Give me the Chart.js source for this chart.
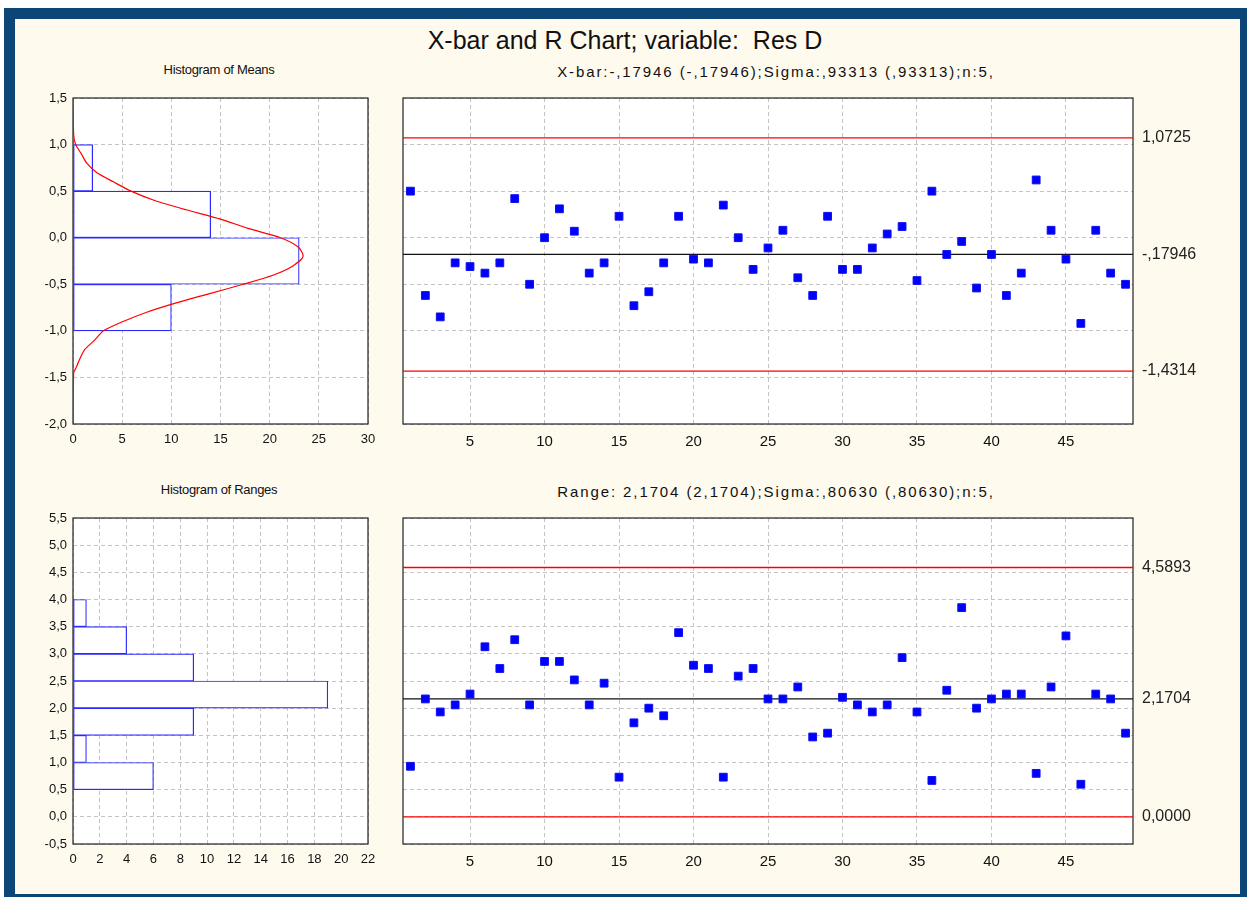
<!DOCTYPE html>
<html>
<head>
<meta charset="utf-8">
<script src="https://cdn.jsdelivr.net/npm/chart.js@4"></script>
<style>
  body { margin: 0; background: #fff; }
  #frame { position: absolute; left: 4px; top: 8px; width: 1243px; height: 889px; background: #0b4676; }
  #inner { position: absolute; left: 15px; top: 19px; width: 1225px; height: 875px; background: #fffaee; }
  canvas { position: absolute; }
  .t { position: absolute; font-family: "Liberation Sans", Arial, sans-serif; color: #111; white-space: nowrap; transform: translate(-50%, -50%); }
</style>
</head>
<body>
<div id="frame"></div>
<div id="inner"></div>

<div class="t" style="left:625px; top:40px; font-size:25px;">X-bar and R Chart; variable:&nbsp; Res D</div>
<div class="t" style="left:776px; top:71px; font-size:15px; letter-spacing:1.9px;">X-bar:-,17946 (-,17946);Sigma:,93313 (,93313);n:5,</div>
<div class="t" style="left:219px; top:69px; font-size:13px; letter-spacing:-0.3px;">Histogram of Means</div>
<div class="t" style="left:219px; top:489px; font-size:13px; letter-spacing:-0.3px;">Histogram of Ranges</div>
<div class="t" style="left:776px; top:491px; font-size:15px; letter-spacing:1.9px;">Range: 2,1704 (2,1704);Sigma:,80630 (,80630);n:5,</div>

<canvas id="histMeans" width="365" height="370" style="left:20px; top:85px;"></canvas>
<canvas id="xbarChart" width="850" height="374" style="left:390px; top:81px;"></canvas>
<canvas id="histRanges" width="365" height="370" style="left:20px; top:505px;"></canvas>
<canvas id="rChart" width="850" height="374" style="left:390px; top:501px;"></canvas>

<script>
// Sample means (X-bar), samples 1..49
const meansValues = [0.50, -0.62, -0.85, -0.27, -0.31, -0.38, -0.27, 0.42, -0.50, 0.00,
    0.31, 0.07, -0.38, -0.27, 0.23, -0.73, -0.58, -0.27, 0.23, -0.23,
    -0.27, 0.35, 0.00, -0.34, -0.11, 0.08, -0.43, -0.62, 0.23, -0.34,
    -0.34, -0.11, 0.04, 0.12, -0.46, 0.50, -0.18, -0.04, -0.54, -0.18,
    -0.62, -0.38, 0.62, 0.08, -0.23, -0.92, 0.08, -0.38, -0.50];

// Sample ranges, samples 1..49
const rangeValues = [0.93, 2.17, 1.93, 2.06, 2.26, 3.13, 2.73, 3.26, 2.06, 2.86,
    2.86, 2.52, 2.06, 2.46, 0.73, 1.73, 2.00, 1.86, 3.39, 2.79,
    2.73, 0.73, 2.59, 2.73, 2.17, 2.17, 2.39, 1.47, 1.54, 2.20,
    2.06, 1.93, 2.06, 2.93, 1.93, 0.67, 2.33, 3.85, 2.00, 2.17,
    2.26, 2.26, 0.80, 2.39, 3.33, 0.60, 2.26, 2.17, 1.54];

// Control limits
const xbarLimits = [1.0725, -0.17946, -1.4314];
const xbarLimitLabels = ['1,0725', '-,17946', '-1,4314'];
const rLimits = [4.5893, 2.1704, 0.0];
const rLimitLabels = ['4,5893', '2,1704', '0,0000'];

// Histograms (bin centre, count)
const meansBins = [0.75, 0.25, -0.25, -0.75];
const meansCounts = [2, 14, 23, 10];
const rangeBins = [0.75, 1.25, 1.75, 2.25, 2.75, 3.25, 3.75];
const rangeCounts = [6, 1, 9, 19, 9, 4, 1];

// Fitted curve on the means histogram
const curveLevels = [1.5, 1.1, 1.0, 0.9, 0.8, 0.7, 0.6, 0.5, 0.4, 0.3, 0.2, 0.1, 0.0,
    -0.1, -0.2, -0.3, -0.4, -0.5, -0.6, -0.7, -0.8, -0.9, -1.0, -1.1, -1.2, -1.3, -1.4, -1.45, -2.0];
const curveCounts = [0, 0.07, 0.27, 0.85, 1.4, 2.4, 4.1, 5.9, 8.3, 11.5, 15.0, 17.8, 21.1,
    22.9, 23.4, 22.4, 20.4, 17.3, 13.9, 10.5, 7.5, 5.1, 3.1, 2.2, 1.2, 0.7, 0.3, 0.07, 0];

// Tick values
const sampleTicks = [5, 10, 15, 20, 25, 30, 35, 40, 45];

Chart.defaults.font.family = '"Liberation Sans", Arial, sans-serif';
Chart.defaults.font.size = 13;
Chart.defaults.color = '#111';
Chart.defaults.animation = false;
Chart.defaults.plugins.legend.display = false;
Chart.defaults.plugins.tooltip.enabled = false;

// white plot background and black box round the plot area
const plotBox = {
    id: 'plotBox',
    beforeDraw(chart) {
        const a = chart.chartArea, ctx = chart.ctx;
        ctx.save();
        ctx.fillStyle = '#fff';
        ctx.fillRect(a.left, a.top, a.right - a.left, a.bottom - a.top);
        ctx.restore();
    },
    beforeDatasetsDraw(chart) {
        const a = chart.chartArea, ctx = chart.ctx;
        ctx.save();
        ctx.strokeStyle = '#222';
        ctx.lineWidth = 1.2;
        ctx.strokeRect(a.left, a.top, a.right - a.left, a.bottom - a.top);
        ctx.restore();
    }
};

const comma1 = v => v.toFixed(1).replace('.', ',');
const gridOpts = { color: '#c4c4c4', drawTicks: false };
const borderOpts = { display: false, dash: [4, 3] };

function histChart(id, bins, counts, xMax, xStep, yMin, yMax, extra) {
    const datasets = [{
        type: 'bar',
        order: 2,
        data: bins.map((b, i) => ({ x: counts[i], y: b })),
        backgroundColor: '#fff',
        borderColor: '#2a2aff',
        borderWidth: 1.2,
        borderSkipped: false,
        barPercentage: 1,
        categoryPercentage: 1
    }];
    if (extra) datasets.push(extra);
    return new Chart(document.getElementById(id), {
        type: 'bar',
        data: { datasets: datasets },
        options: {
            responsive: false,
            indexAxis: 'y',
            layout: { padding: { top: 13, right: 17, left: 0, bottom: 0 } },
            scales: {
                x: {
                    type: 'linear', min: 0, max: xMax,
                    ticks: { stepSize: xStep, padding: 8 },
                    grid: gridOpts, border: borderOpts,
                    afterFit: s => { s.height = 31; }
                },
                y: {
                    type: 'linear', min: yMin, max: yMax, offset: false,
                    ticks: { stepSize: 0.5, padding: 6, font: { size: 13, lineHeight: 1 }, callback: v => comma1(v) },
                    grid: { ...gridOpts, offset: false }, border: borderOpts,
                    afterFit: s => { s.width = 53; }
                }
            }
        },
        plugins: [plotBox]
    });
}

histChart('histMeans', meansBins, meansCounts, 30, 5, -2.0, 1.5, {
    type: 'line',
    order: 1,
    indexAxis: 'y',
    data: curveLevels.map((l, i) => ({ x: curveCounts[i], y: l })),
    borderColor: '#ff0000',
    borderWidth: 1.2,
    pointRadius: 0,
    tension: 0.25,
    fill: false
});
histChart('histRanges', rangeBins, rangeCounts, 22, 2, -0.5, 5.5);

function controlChart(id, values, limits, limitLabels, yMin, yMax) {
    const limitLine = (v, color) => ({
        data: [{ x: 0.5, y: v }, { x: 49.5, y: v }],
        showLine: true,
        borderColor: color,
        borderWidth: 1.3,
        pointRadius: 0
    });
    return new Chart(document.getElementById(id), {
        type: 'scatter',
        data: {
            datasets: [
                {
                    data: values.map((v, i) => ({ x: i + 1, y: v })),
                    pointStyle: 'rect',
                    pointRadius: 5.5,
                    backgroundColor: '#0000ff',
                    borderColor: '#1010ee',
                    borderWidth: 1
                },
                limitLine(limits[0], '#ff0000'),
                limitLine(limits[1], '#111'),
                limitLine(limits[2], '#ff0000')
            ]
        },
        options: {
            responsive: false,
            layout: { padding: { top: 17, right: 0, left: 0, bottom: 0 } },
            scales: {
                x: {
                    type: 'linear', min: 0.5, max: 49.5,
                    afterBuildTicks: s => { s.ticks = sampleTicks.map(v => ({ value: v })); },
                    ticks: { padding: 9, font: { size: 15 } },
                    grid: gridOpts, border: borderOpts,
                    afterFit: s => { s.height = 31; }
                },
                y: {
                    type: 'linear', min: yMin, max: yMax,
                    ticks: { stepSize: 0.5, display: false },
                    grid: gridOpts, border: borderOpts,
                    afterFit: s => { s.width = 13; }
                },
                y2: {
                    type: 'linear', position: 'right', min: yMin, max: yMax,
                    afterBuildTicks: s => { s.ticks = limits.map(v => ({ value: v })); },
                    ticks: { padding: 9, autoSkip: false, font: { size: 16, lineHeight: 1 }, color: '#222',
                        callback: (v, i) => limitLabels[i] },
                    grid: { display: false, drawTicks: false },
                    border: { display: false },
                    afterFit: s => { s.width = 107; }
                }
            }
        },
        plugins: [plotBox]
    });
}

controlChart('xbarChart', meansValues, xbarLimits, xbarLimitLabels, -2.0, 1.5);
controlChart('rChart', rangeValues, rLimits, rLimitLabels, -0.5, 5.5);
</script>
</body>
</html>
